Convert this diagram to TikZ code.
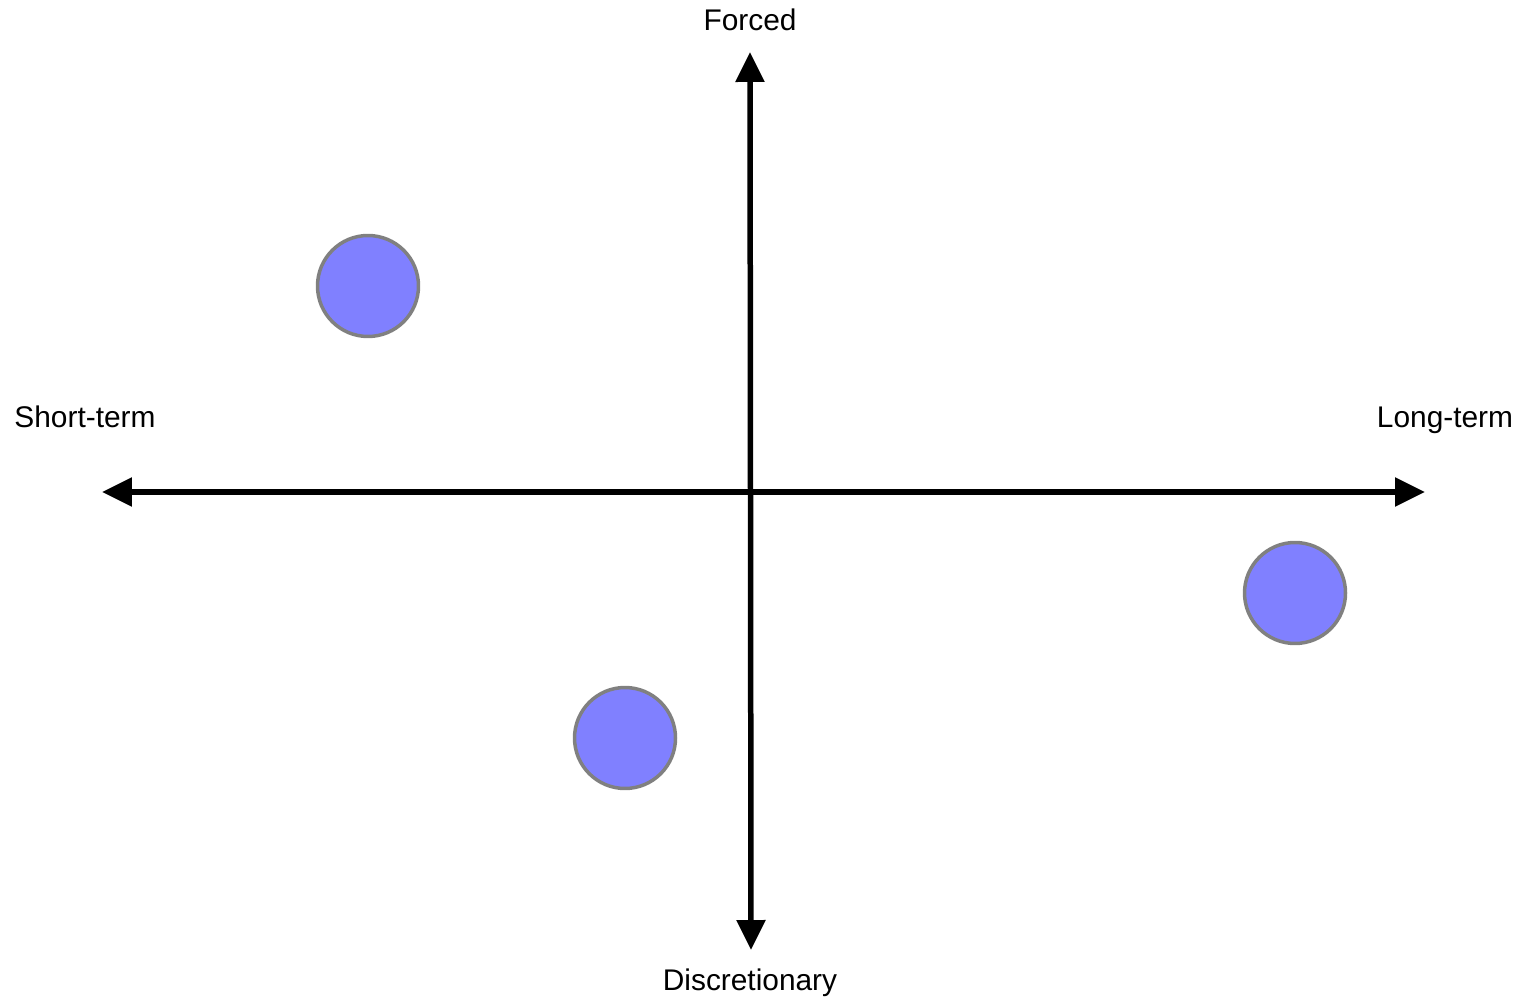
\documentclass[tikz,border=0pt]{standalone}
\usepackage{fontspec}
\setmainfont{Liberation Sans}
\usepackage{xcolor}
\usetikzlibrary{arrows.meta,positioning}

\definecolor{dotblue}{HTML}{8080FF}
\definecolor{dotedge}{HTML}{808080}

\begin{document}
\begin{tikzpicture}[x=0.02cm, y=-0.02cm, >={Triangle[length=0.6cm, width=0.56cm]},
  axis/.style={line width=0.11cm, <->},
  dot/.style={circle, draw=dotedge, fill=dotblue, line width=0.07cm, minimum size=2.02cm, inner sep=0pt},
  lbl/.style={font=\fontsize{17}{20}\selectfont, inner sep=0pt, anchor=base}]
  \useasboundingbox (0,0) rectangle (1523,999);
  % axes
  \coordinate (top) at (750,52);
  \coordinate (bot) at (751,950);
  \coordinate (left) at (102,492);
  \coordinate (right) at (1425,492);
  \draw[axis](left)--(right);
  \draw[axis](bot)--(top);
  % labels
  \node[lbl] (forced) at (750,31) {Forced};
  \node[lbl] (disc) at (750,990) {Discretionary};
  \node[lbl] (short) at (85,428) {Short-term};
  \node[lbl] (long) at (1445,428) {Long-term};
  % points
  \node[dot] (p1) at (368,286) {};
  \node[dot] (p2) at (1295,593) {};
  \node[dot] (p3) at (625,738) {};
\end{tikzpicture}
\end{document}
